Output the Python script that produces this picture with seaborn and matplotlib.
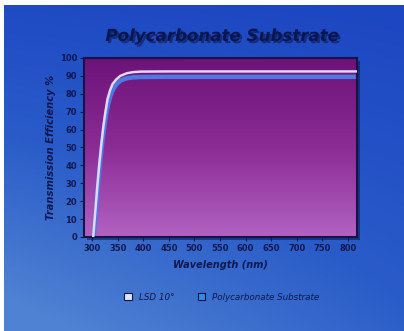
import numpy as np
import pandas as pd
import matplotlib
matplotlib.use("Agg")
import matplotlib.pyplot as plt
import matplotlib.patheffects as pe
from matplotlib.patches import Rectangle, Patch
from matplotlib.colors import LinearSegmentedColormap
import seaborn as sns

# ---- data ----
wl_lsd = [302, 306, 310, 314, 318, 322, 326, 330, 335, 340, 347, 355, 368, 380, 395, 450, 500, 600, 700, 818]
eff_lsd = [0, 14, 28, 41, 52, 62, 70, 77, 82, 85.5, 88, 90, 91.5, 92.1, 92.4, 92.5, 92.5, 92.5, 92.5, 92.5]
wl_pc = [303, 307, 311, 315, 319, 323, 327, 331, 336, 341, 348, 356, 368, 380, 395, 450, 500, 600, 700, 818]
eff_pc = [0, 13, 27, 40, 51, 60, 68, 74, 79, 82.5, 85.5, 87.5, 88.7, 89.2, 89.4, 89.5, 89.5, 89.5, 89.5, 89.5]
series_names = ["LSD 10\u00b0", "Polycarbonate Substrate"]
x_ticks = [300, 350, 400, 450, 500, 550, 600, 650, 700, 750, 800]
y_ticks = [0, 10, 20, 30, 40, 50, 60, 70, 80, 90, 100]

df = pd.concat([
    pd.DataFrame({"Wavelength": wl_pc, "Efficiency": eff_pc, "Series": series_names[1]}),
    pd.DataFrame({"Wavelength": wl_lsd, "Efficiency": eff_lsd, "Series": series_names[0]}),
])

W, H = 404, 331
fig = plt.figure(figsize=(W / 100, H / 100), dpi=100)
fig.patch.set_facecolor("white")

# ---- background blue panel with gradient ----
bg = fig.add_axes([4 / W, 0, 1 - 4 / W, 1 - 5 / H], zorder=-10)
bg.set_axis_off()
yy, xx = np.mgrid[0:1:200j, 0:1:200j]
t = np.clip(0.55 * yy + 0.45 * (1 - xx) * yy + 0.1 * (1 - xx), 0, 1)
bcmap = LinearSegmentedColormap.from_list("b", ["#1c46c2", "#2a5cc9", "#4f82d2"])
bg.imshow(t, cmap=bcmap, aspect="auto", extent=[0, 1, 0, 1], origin="upper")
bg.set_xlim(0, 1)
bg.set_ylim(0, 1)

# ---- plot axes ----
left, right = 84 / W, 357 / W
bottom, top = (H - 237) / H, (H - 58) / H
ax = fig.add_axes([left, bottom, right - left, top - bottom])

# shadow behind plot area
shadow = Rectangle((left + 3 / W, bottom - 3 / H), right - left, top - bottom,
                   transform=fig.transFigure, facecolor="#0a1a4a", alpha=0.55,
                   zorder=-5, edgecolor="none")
fig.patches.append(shadow)

xmin, xmax = 284, 818
ax.set_xlim(xmin, xmax)
ax.set_ylim(0, 100)
pcmap = LinearSegmentedColormap.from_list("p", ["#6c1378", "#8a2c94", "#b262c2"])
grad = np.linspace(0, 1, 256).reshape(-1, 1)
ax.imshow(grad, cmap=pcmap, aspect="auto", extent=[xmin, xmax, 0, 100],
          origin="upper", zorder=0)

palette = {series_names[0]: "#e4d6f6", series_names[1]: "#4c7ae2"}
sns.lineplot(data=df, x="Wavelength", y="Efficiency", hue="Series",
             hue_order=[series_names[1], series_names[0]], palette=palette,
             ax=ax, legend=False, sort=False, estimator=None)
for line in ax.get_lines():
    if matplotlib.colors.to_hex(line.get_color()) == "#4c7ae2":
        line.set_linewidth(3.2)
        line.set_zorder(2)
    else:
        line.set_linewidth(1.8)
        line.set_zorder(3)
ax.set_xlim(xmin, xmax)
ax.set_ylim(0, 100)

navy = "#0f1850"
for s in ax.spines.values():
    s.set_color("#16124a")
    s.set_linewidth(1.5)
ax.set_xticks(x_ticks)
ax.set_yticks(y_ticks)
ax.tick_params(colors=navy, length=3, width=0.8, labelsize=6, pad=2)
for lab in ax.get_xticklabels() + ax.get_yticklabels():
    lab.set_color(navy)
    lab.set_fontweight("bold")

ax.set_xlabel("Wavelength (nm)", fontsize=7, fontstyle="italic",
              fontweight="bold", color=navy, labelpad=5)
ax.set_ylabel("Transmission Efficiency %", fontsize=7.2, fontstyle="italic",
              fontweight="bold", color=navy, labelpad=3)

fig.text(222 / W, 1 - 36 / H, "Polycarbonate Substrate", ha="center", va="center",
         fontsize=12, fontweight="bold", fontstyle="italic", color="#0a1650",
         path_effects=[pe.withSimplePatchShadow(offset=(1.5, -1.5), shadow_rgbFace="#06103a", alpha=0.5)])

# ---- legend ----
handles = [Patch(facecolor="#dfe4f4", edgecolor="#16124a", linewidth=0.8),
           Patch(facecolor="#2f8ce8", edgecolor="#16124a", linewidth=0.8)]
leg = fig.legend(handles, series_names, loc="center", ncol=2,
                 bbox_to_anchor=(222 / W, 1 - 297 / H), frameon=False,
                 fontsize=6.3, handlelength=0.9, handleheight=0.9,
                 columnspacing=2.6, handletextpad=0.8)
for txt in leg.get_texts():
    txt.set_color(navy)
    txt.set_fontstyle("italic")

fig.savefig("out.png", dpi=100, facecolor=fig.get_facecolor())
